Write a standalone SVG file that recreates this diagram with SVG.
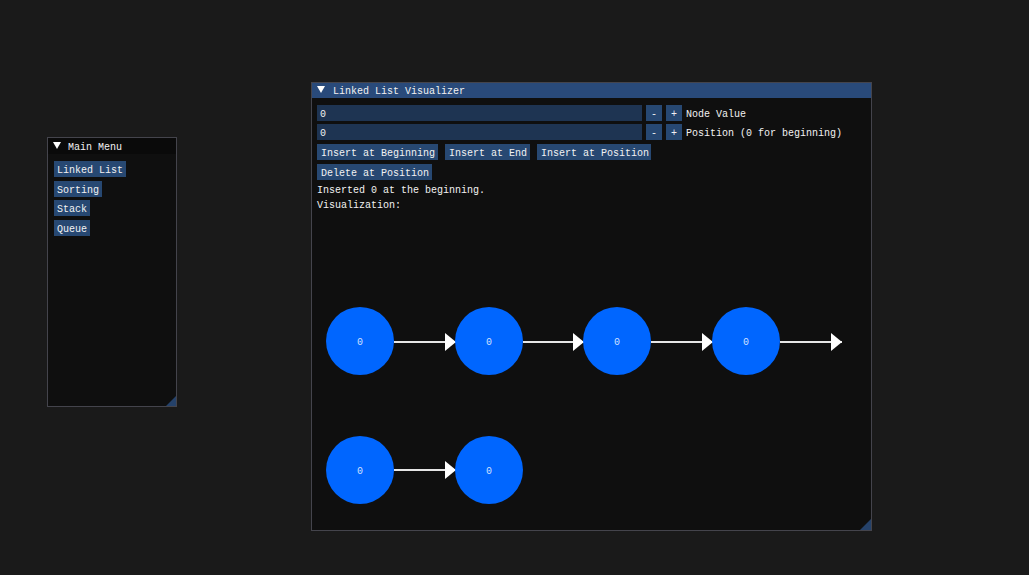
<svg xmlns="http://www.w3.org/2000/svg" width="1029" height="575" viewBox="0 0 1029 575">
<defs>
<style>
.t{font-family:"Liberation Mono","DejaVu Sans Mono",monospace;font-size:10px;fill:#f2f2f2}
.win{fill:#0f0f0f;stroke:#44444c;stroke-width:1}
.btn{fill:#274872}
.frame{fill:#1e3452}
.node{fill:#0066ff}
.nt{font-family:"Liberation Mono","DejaVu Sans Mono",monospace;font-size:10px;fill:#cfe0ff;text-anchor:middle}
.edge{stroke:#e6e6e6;stroke-width:2;fill:none}
.grip{fill:#25426a}
</style>
<marker id="ah" markerUnits="userSpaceOnUse" markerWidth="12" markerHeight="18" refX="11" refY="9" orient="auto"><path d="M0,0 L11,9 L0,18 Z" fill="#ffffff"/></marker>
</defs>
<rect width="1029" height="575" fill="#1a1a1a"/>
<g id="main-menu">
<rect class="win" x="47.5" y="137.5" width="129" height="269"/>
<rect x="48" y="138" width="128" height="16" fill="#0a0a0a"/>
<path d="M53,142 L61,142 L57,149 Z" fill="#ffffff"/>
<text class="t" x="68" y="150">Main Menu</text>
<rect class="btn" x="54" y="161" width="72" height="16"/>
<text class="t" x="57" y="173">Linked List</text>
<rect class="btn" x="54" y="181" width="48" height="16"/>
<text class="t" x="57" y="193">Sorting</text>
<rect class="btn" x="54" y="200" width="36" height="16"/>
<text class="t" x="57" y="212">Stack</text>
<rect class="btn" x="54" y="220" width="36" height="16"/>
<text class="t" x="57" y="232">Queue</text>
<path d="M176,396 L176,406 L166,406 Z" class="grip"/>
</g>
<g id="visualizer">
<rect class="win" x="311.5" y="82.5" width="560" height="448"/>
<rect x="312" y="83" width="559" height="15" fill="#294a7a"/>
<path d="M317,86 L325,86 L321,93 Z" fill="#ffffff"/>
<text class="t" x="333" y="94">Linked List Visualizer</text>
<rect class="frame" x="317" y="105" width="325" height="16"/>
<text class="t" x="320" y="117">0</text>
<rect class="btn" x="646" y="105" width="16" height="16"/>
<text class="t" x="651" y="117">-</text>
<rect class="btn" x="666" y="105" width="16" height="16"/>
<text class="t" x="671" y="117">+</text>
<text class="t" x="686" y="117">Node Value</text>
<rect class="frame" x="317" y="124" width="325" height="16"/>
<text class="t" x="320" y="136">0</text>
<rect class="btn" x="646" y="124" width="16" height="16"/>
<text class="t" x="651" y="136">-</text>
<rect class="btn" x="666" y="124" width="16" height="16"/>
<text class="t" x="671" y="136">+</text>
<text class="t" x="686" y="136">Position (0 for beginning)</text>
<rect class="btn" x="317" y="144" width="121" height="16"/>
<text class="t" x="321" y="156">Insert at Beginning</text>
<rect class="btn" x="445" y="144" width="85" height="16"/>
<text class="t" x="449" y="156">Insert at End</text>
<rect class="btn" x="537" y="144" width="114" height="16"/>
<text class="t" x="541" y="156">Insert at Position</text>
<rect class="btn" x="317" y="164" width="115" height="16"/>
<text class="t" x="321" y="176">Delete at Position</text>
<text class="t" x="317" y="193">Inserted 0 at the beginning.</text>
<text class="t" x="317" y="208">Visualization:</text>
<path d="M871,519 L871,530 L860,530 Z" class="grip"/>
</g>
<g id="connectors">
<line class="edge" x1="394" y1="342" x2="456" y2="342" marker-end="url(#ah)"/>
<line class="edge" x1="523" y1="342" x2="584" y2="342" marker-end="url(#ah)"/>
<line class="edge" x1="651" y1="342" x2="713" y2="342" marker-end="url(#ah)"/>
<line class="edge" x1="780" y1="342" x2="842" y2="342" marker-end="url(#ah)"/>
<line class="edge" x1="394" y1="470" x2="456" y2="470" marker-end="url(#ah)"/>
</g>
<g id="node1"><circle class="node" cx="360" cy="341" r="34"/><text class="nt" x="360" y="345">0</text></g>
<g id="node2"><circle class="node" cx="489" cy="341" r="34"/><text class="nt" x="489" y="345">0</text></g>
<g id="node3"><circle class="node" cx="617" cy="341" r="34"/><text class="nt" x="617" y="345">0</text></g>
<g id="node4"><circle class="node" cx="746" cy="341" r="34"/><text class="nt" x="746" y="345">0</text></g>
<g id="node5"><circle class="node" cx="360" cy="470" r="34"/><text class="nt" x="360" y="474">0</text></g>
<g id="node6"><circle class="node" cx="489" cy="470" r="34"/><text class="nt" x="489" y="474">0</text></g>
</svg>
